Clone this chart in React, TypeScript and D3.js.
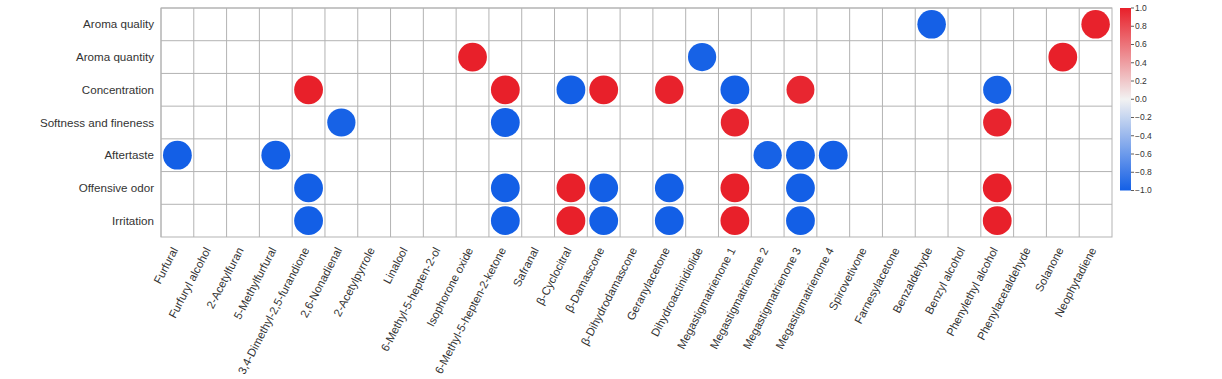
import React from "react";
import * as d3 from "d3";

const compounds = [
  "Furfural", "Furfuryl alcohol", "2-Acetylfuran", "5-Methylfurfural",
  "3,4-Dimethyl-2,5-furandione", "2,6-Nonadienal", "2-Acetylpyrrole", "Linalool",
  "6-Methyl-5-hepten-2-ol", "Isophorone oxide", "6-Methyl-5-hepten-2-ketone", "Safranal",
  "β-Cyclocitral", "β-Damascone", "β-Dihydrodamascone", "Geranylacetone",
  "Dihydroactinidiolide", "Megastigmatrienone 1", "Megastigmatrienone 2", "Megastigmatrienone 3",
  "Megastigmatrienone 4", "Spirovetivone", "Farnesylacetone", "Benzaldehyde",
  "Benzyl alcohol", "Phenylethyl alcohol", "Phenylacetaldehyde", "Solanone", "Neophytadiene",
];

const attributes = [
  "Aroma quality", "Aroma quantity", "Concentration", "Softness and fineness",
  "Aftertaste", "Offensive odor", "Irritation",
];

// [compound, correlation] per attribute
const aromaQuality: [string, number][] = [["Benzaldehyde", -0.99], ["Neophytadiene", 0.99]];
const aromaQuantity: [string, number][] = [["Isophorone oxide", 1.0], ["Dihydroactinidiolide", -0.98], ["Solanone", 1.0]];
const concentration: [string, number][] = [
  ["3,4-Dimethyl-2,5-furandione", 1.0], ["6-Methyl-5-hepten-2-ketone", 1.0], ["β-Cyclocitral", -1.0],
  ["β-Damascone", 1.0], ["Geranylacetone", 0.99], ["Megastigmatrienone 1", -1.0],
  ["Megastigmatrienone 3", 0.97], ["Phenylethyl alcohol", -0.98],
];
const softness: [string, number][] = [
  ["2,6-Nonadienal", -0.98], ["6-Methyl-5-hepten-2-ketone", -1.0], ["Megastigmatrienone 1", 0.98], ["Phenylethyl alcohol", 0.98],
];
const aftertaste: [string, number][] = [
  ["Furfural", -1.0], ["5-Methylfurfural", -1.0], ["Megastigmatrienone 2", -0.98],
  ["Megastigmatrienone 3", -1.0], ["Megastigmatrienone 4", -1.0],
];
const offensiveOdor: [string, number][] = [
  ["3,4-Dimethyl-2,5-furandione", -1.0], ["6-Methyl-5-hepten-2-ketone", -1.0], ["β-Cyclocitral", 1.0],
  ["β-Damascone", -1.0], ["Geranylacetone", -1.0], ["Megastigmatrienone 1", 1.0],
  ["Megastigmatrienone 3", -1.0], ["Phenylethyl alcohol", 1.0],
];
const irritation: [string, number][] = [
  ["3,4-Dimethyl-2,5-furandione", -1.0], ["6-Methyl-5-hepten-2-ketone", -1.0], ["β-Cyclocitral", 1.0],
  ["β-Damascone", -1.0], ["Geranylacetone", -1.0], ["Megastigmatrienone 1", 1.0],
  ["Megastigmatrienone 3", -1.0], ["Phenylethyl alcohol", 1.0],
];

const seriesByAttr: [string, [string, number][]][] = [
  ["Aroma quality", aromaQuality], ["Aroma quantity", aromaQuantity], ["Concentration", concentration],
  ["Softness and fineness", softness], ["Aftertaste", aftertaste], ["Offensive odor", offensiveOdor],
  ["Irritation", irritation],
];

const colorTicks = [1.0, 0.8, 0.6, 0.4, 0.2, 0.0, -0.2, -0.4, -0.6, -0.8, -1.0];

const W = 1222, H = 379;
const left = 161, right = 1112, top = 8, bottom = 237;

export default function App() {
  const x = d3.scaleBand<string>().domain(compounds).range([left, right]);
  const y = d3.scaleBand<string>().domain(attributes).range([top, bottom]);
  const color = d3.scaleLinear<string>().domain([-1, 0, 1]).range(["#135fe6", "#f2f2f2", "#e8202a"]).interpolate(d3.interpolateRgb);
  const r = d3.scaleLinear().domain([0, 1]).range([0, 14.4]);
  const cb = d3.scaleLinear().domain([1, -1]).range([8, 190.5]);
  const cells = seriesByAttr.flatMap(([a, arr]) => arr.map(([c, v]) => ({ a, c, v })));
  const fmt = (t: number) => (t < 0 ? "\u2212" + Math.abs(t).toFixed(1) : t.toFixed(1));
  const gradStops = d3.range(0, 1.0001, 0.05);
  const font = "Liberation Sans, Arial, sans-serif";
  return (
    <svg width={W} height={H} style={{ position: "absolute", left: 0, top: 0 }} fontFamily={font}>
      <rect x={0} y={0} width={W} height={H} fill="#fff" />
      {compounds.map((c) => (
        <line key={"v" + c} x1={x(c)!} x2={x(c)!} y1={top} y2={bottom} stroke="#b3b3b3" strokeWidth={1} />
      ))}
      {attributes.map((a) => (
        <line key={"h" + a} x1={left} x2={right} y1={y(a)!} y2={y(a)!} stroke="#b3b3b3" strokeWidth={1} />
      ))}
      <rect x={left} y={top} width={right - left} height={bottom - top} fill="none" stroke="#b3b3b3" strokeWidth={1} />
      {cells.map((d, i) => (
        <circle key={i} cx={x(d.c)! + x.bandwidth() / 2} cy={y(d.a)! + y.bandwidth() / 2} r={r(Math.abs(d.v))} fill={color(d.v)} />
      ))}
      {attributes.map((a) => (
        <text key={"yl" + a} x={154} y={y(a)! + y.bandwidth() / 2} dy="0.35em" textAnchor="end" fontSize={11.6} fill="#333">
          {a}
        </text>
      ))}
      {compounds.map((c) => {
        const cx = x(c)! + x.bandwidth() / 2 + 1;
        const cy = 250;
        return (
          <text key={"xl" + c} transform={`translate(${cx},${cy}) rotate(-62.5)`} textAnchor="end" fontSize={11.4} fill="#333">
            {c}
          </text>
        );
      })}
      <defs>
        <linearGradient id="cbgrad" x1="0" y1="0" x2="0" y2="1">
          {gradStops.map((t) => (
            <stop key={t} offset={`${t * 100}%`} stopColor={color(1 - 2 * t)} />
          ))}
        </linearGradient>
      </defs>
      <rect x={1120} y={cb(1)} width={11} height={cb(-1) - cb(1)} fill="url(#cbgrad)" />
      {colorTicks.map((t) => (
        <g key={"ct" + t}>
          <line x1={1131} x2={1134} y1={cb(t)} y2={cb(t)} stroke="#333" strokeWidth={0.8} />
          <text x={1135} y={cb(t)} dy="0.35em" fontSize={8.5} fill="#333">
            {fmt(t)}
          </text>
        </g>
      ))}
    </svg>
  );
}
